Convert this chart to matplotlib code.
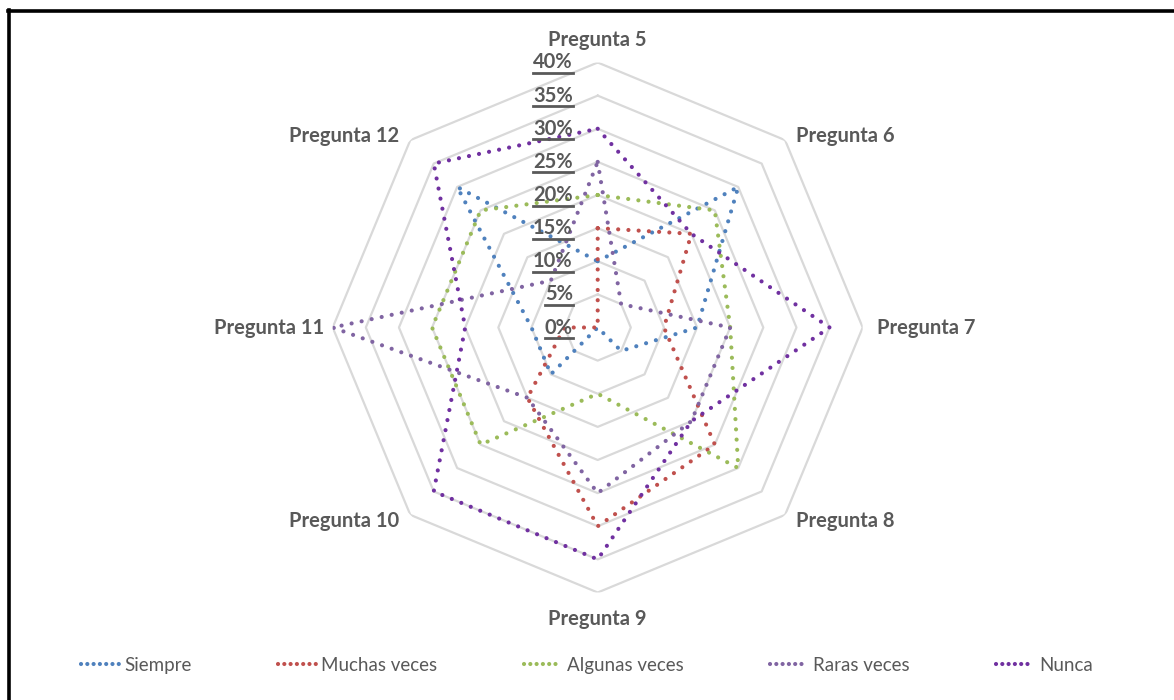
import matplotlib
matplotlib.use("Agg")
import matplotlib.pyplot as plt
import numpy as np
from matplotlib.lines import Line2D

# data (percent)
preguntas = ["Pregunta 5", "Pregunta 6", "Pregunta 7", "Pregunta 8",
             "Pregunta 9", "Pregunta 10", "Pregunta 11", "Pregunta 12"]
siempre = [10, 30, 15, 5, 0, 10, 10, 30]
muchas_veces = [15, 20, 10, 25, 30, 15, 5, 0]
algunas_veces = [20, 25, 20, 30, 10, 25, 25, 25]
raras_veces = [25, 5, 20, 20, 25, 15, 40, 10]
nunca = [30, 20, 35, 20, 35, 35, 20, 35]
series_names = ["Siempre", "Muchas veces", "Algunas veces", "Raras veces", "Nunca"]
ticks = [0, 5, 10, 15, 20, 25, 30, 35, 40]

colors = ["#4F81BD", "#C0504D", "#9BBB59", "#8064A2", "#7030A0"]
gray = "#595959"
plt.rcParams['font.family'] = ['Lato', 'DejaVu Sans']

W, H = 1174, 700
fig = plt.figure(figsize=(W / 100, H / 100), dpi=100)
cx, cy, R = 597.7, 327.5, 265.0
ax = fig.add_axes([(cx - R) / W, (H - cy - R) / H, 2 * R / W, 2 * R / H], projection="polar")
ax.set_theta_zero_location("N")
ax.set_theta_direction(-1)
ax.set_ylim(0, 40)
ax.grid(False)
ax.spines["polar"].set_visible(False)
ax.set_xticks([])
ax.set_yticks([])
ax.patch.set_alpha(0)

n = len(preguntas)
angles = np.arange(n) * 2 * np.pi / n
closed = np.append(angles, angles[0])

# octagon grid
for t in ticks[1:]:
    ax.plot(closed, [t] * (n + 1), color="#D9D9D9", lw=1.6, zorder=1)

all_series = [siempre, muchas_veces, algunas_veces, raras_veces, nunca]
handles = []
for vals, name, c in zip(all_series, series_names, colors):
    v = np.append(vals, vals[0])
    ax.plot(closed, v, color=c, lw=3.0, linestyle=(0, (0.01, 2.45)),
            dash_capstyle="round", solid_capstyle="round", zorder=3)
    handles.append(Line2D([], [], color=c, lw=3.0, linestyle=(0, (0.01, 1.5)),
                          dash_capstyle="round", label=name))

# category labels
offsets = [(0, 9, "center", "bottom"), (8, -4, "left", "bottom"), (10, 0, "left", "center"),
           (8, 3, "left", "top"), (0, -12, "center", "top"), (-8, 3, "right", "top"),
           (-6, 0, "right", "center"), (-8, -4, "right", "bottom")]
for a, lab, (dx, dy, ha, va) in zip(angles, preguntas, offsets):
    ax.annotate(lab, xy=(a, 40), xytext=(dx, dy), textcoords="offset points",
                ha=ha, va=va, fontsize=14.5, fontweight="bold", color=gray, zorder=5)

# radial tick labels (underlined)
tick_texts = []
for t in ticks:
    txt = ax.annotate(f"{t}%", xy=(0, t), xytext=(-18, 0), textcoords="offset points",
                      ha="right", va="center", fontsize=14.5, fontweight="bold",
                      color=gray, zorder=6)
    tick_texts.append(txt)

fig.legend(handles=handles, loc="lower center", bbox_to_anchor=(0.5, 0.013), ncol=5,
           frameon=False, fontsize=13.5, labelcolor=gray, handlelength=2.0,
           columnspacing=4.6, handletextpad=0.3)

fig.canvas.draw()
renderer = fig.canvas.get_renderer()
for txt in tick_texts:
    bb = txt.get_window_extent(renderer)
    y = bb.y0 - 0.5
    fig.add_artist(Line2D([bb.x0 / W, bb.x1 / W], [y / H, y / H], color=gray, lw=2.0))

# chart border (left and top only)
fig.add_artist(Line2D([8.5 / W, 8.5 / W], [0, (H - 10) / H], color="black", lw=2.6))
fig.add_artist(Line2D([7.5 / W, 1], [(H - 11) / H, (H - 11) / H], color="black", lw=2.6))

fig.savefig("out.png", dpi=100)
